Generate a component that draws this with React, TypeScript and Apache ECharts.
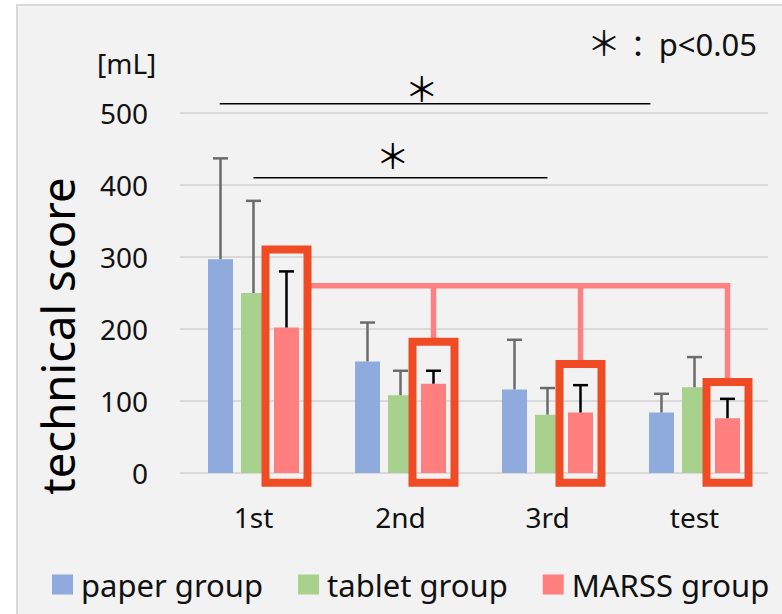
import React, { useEffect, useRef } from 'react';
import * as echarts from 'echarts';

const categories = ['1st', '2nd', '3rd', 'test'];
const seriesNames = ['paper group', 'tablet group', 'MARSS group'];
const paperMean = [297, 155, 116, 84];
const paperSD = [140, 54, 69, 26];
const tabletMean = [250, 108, 81, 119];
const tabletSD = [128, 34, 37, 42];
const marssMean = [202, 124, 84, 76];
const marssSD = [78, 18, 38, 27];
const yMin = 0;
const yMax = 500;
const yStep = 100;
// highlighted MARSS boxes: top value per category, common bottom value
const boxTop = [316, 188, 157, 132];
const boxBottom = -19;
// connector level between highlighted boxes
const connectorLevel = 260;
// significance brackets (category positions, value levels)
const sigFrom = [-0.23, 0];
const sigTo = [2.7, 2.0];
const sigLevel = [513, 410];
const sigStarAt = [1.145, 0.947];
const sigStarLevel = [535, 442];

const FONT = '"Noto Sans", sans-serif';
const CJK = '"Noto Sans CJK JP", sans-serif';
const COLORS = ['#8faadc', '#a9d18e', '#ff7f7f'];
const BAR_W = 25;
const BAR_GAP = 0.32;
const STEP = BAR_W * (1 + BAR_GAP);
const BOX_COLOR = '#ef4b24';
const LINK_COLOR = '#ff8080';

function errSeries(idx: number, means: number[], sds: number[], color: string) {
  const offset = (idx - 1) * STEP;
  return {
    type: 'custom',
    name: 'err' + idx,
    clip: false,
    z: 5,
    encode: { x: 0, y: 1 },
    data: categories.map((_, i) => [i, means[i], sds[i]]),
    renderItem: (params: any, api: any) => {
      const i = api.value(0);
      const m = api.value(1);
      const sd = api.value(2);
      const b = api.coord([i, m]);
      const t = api.coord([i, m + sd]);
      const x = b[0] + offset;
      const style = { stroke: color, lineWidth: 2.5 };
      return {
        type: 'group',
        children: [
          { type: 'line', shape: { x1: x, y1: b[1], x2: x, y2: t[1] }, style },
          { type: 'line', shape: { x1: x - 7.5, y1: t[1], x2: x + 7.5, y2: t[1] }, style },
        ],
      };
    },
  };
}

export default function App() {
  const ref = useRef<HTMLDivElement>(null);
  useEffect(() => {
    if (!ref.current) return;
    const chart = echarts.init(ref.current, undefined, { renderer: 'svg' });
    const means = [paperMean, tabletMean, marssMean];
    const option: any = {
      animation: false,
      backgroundColor: '#ffffff',
      textStyle: { fontFamily: FONT },
      grid: { left: 180, right: 14, top: 113, bottom: 141, containLabel: false },
      legend: {
        data: seriesNames,
        left: 52,
        top: 569,
        padding: 0,
        itemGap: 35,
        itemWidth: 21,
        itemHeight: 20,
        icon: 'rect',
        selectedMode: false,
        textStyle: { fontSize: 31, color: '#111', fontFamily: FONT, padding: [0, 0, 0, 3] },
      },
      xAxis: {
        type: 'category',
        data: categories,
        axisLine: { show: false },
        axisTick: { show: false },
        axisLabel: { fontSize: 28, color: '#111', margin: 30, fontFamily: FONT },
        splitLine: { show: false },
      },
      yAxis: {
        type: 'value',
        min: yMin,
        max: yMax,
        interval: yStep,
        axisLine: { show: false },
        axisTick: { show: false },
        axisLabel: { fontSize: 28, color: '#111', margin: 32, fontFamily: FONT },
        splitLine: { lineStyle: { color: '#d9d9d9', width: 2 } },
      },
      graphic: [
        {
          type: 'rect',
          z: -100,
          silent: true,
          shape: { x: 17, y: 5, width: 800, height: 700 },
          style: { fill: '#f2f2f2', stroke: '#d9d9d9', lineWidth: 2 },
        },
        {
          type: 'text',
          x: 97,
          y: 63,
          style: { text: '[mL]', fontSize: 28, fontFamily: FONT, fill: '#111', align: 'left', verticalAlign: 'middle' },
        },
        {
          type: 'text',
          x: 604,
          y: 41,
          style: { text: '＊', fontSize: 34, fontFamily: CJK, fill: '#111', align: 'center', verticalAlign: 'middle' },
        },
        {
          type: 'text',
          x: 638,
          y: 44,
          style: { text: '：', fontSize: 30, fontFamily: CJK, fill: '#111', align: 'center', verticalAlign: 'middle' },
        },
        {
          type: 'text',
          x: 757,
          y: 44,
          style: { text: 'p<0.05', fontSize: 31, fontFamily: FONT, fill: '#111', align: 'right', verticalAlign: 'middle' },
        },
        {
          type: 'text',
          x: 57,
          y: 336,
          rotation: Math.PI / 2,
          style: { text: 'technical score', fontSize: 45.5, fontFamily: FONT, fill: '#000', align: 'center', verticalAlign: 'middle' },
        },
      ],
      series: [
        ...seriesNames.map((name, s) => ({
          type: 'bar',
          name,
          data: means[s],
          barWidth: BAR_W,
          barGap: (BAR_GAP * 100) + '%',
          itemStyle: { color: COLORS[s] },
          z: 2,
        })),
        errSeries(0, paperMean, paperSD, '#6b6b6b'),
        errSeries(1, tabletMean, tabletSD, '#6b6b6b'),
        errSeries(2, marssMean, marssSD, '#000000'),
        {
          type: 'custom',
          name: 'link',
          clip: false,
          z: 6,
          encode: { x: 0, y: 1 },
          data: [[0, connectorLevel]],
          renderItem: (params: any, api: any) => {
            const yL = api.coord([0, connectorLevel])[1];
            const cx = categories.map((_, j) => api.coord([j, connectorLevel])[0] + STEP);
            const tops = boxTop.map((v) => api.coord([0, v])[1]);
            const last = categories.length - 1;
            const style = { stroke: LINK_COLOR, lineWidth: 5.5, fill: null, lineJoin: 'miter' };
            const children: any[] = [
              {
                type: 'polyline',
                shape: { points: [[cx[0] + 21, yL], [cx[last], yL], [cx[last], tops[last] + 4]] },
                style,
              },
            ];
            for (let j = 1; j < last; j++) {
              children.push({ type: 'line', shape: { x1: cx[j], y1: yL, x2: cx[j], y2: tops[j] + 4 }, style });
            }
            return { type: 'group', children };
          },
        },
        {
          type: 'custom',
          name: 'boxes',
          clip: false,
          z: 7,
          encode: { x: 0, y: 1 },
          data: categories.map((_, i) => [i, boxTop[i], boxBottom]),
          renderItem: (params: any, api: any) => {
            const i = api.value(0);
            const t = api.coord([i, api.value(1)]);
            const b = api.coord([i, api.value(2)]);
            const cx = t[0] + STEP;
            return {
              type: 'rect',
              shape: { x: cx - 21, y: t[1] + 4, width: 42, height: b[1] - t[1] - 8 },
              style: { fill: null, stroke: BOX_COLOR, lineWidth: 8 },
            };
          },
        },
        {
          type: 'custom',
          name: 'sig',
          clip: false,
          z: 8,
          encode: { x: 0, y: 1 },
          data: sigLevel.map((v, k) => [0, v, k]),
          renderItem: (params: any, api: any) => {
            const k = api.value(2);
            const band = api.size([1, 0])[0];
            const x0 = api.coord([0, 0])[0];
            const y = api.coord([0, sigLevel[k]])[1];
            const ys = api.coord([0, sigStarLevel[k]])[1];
            return {
              type: 'group',
              children: [
                {
                  type: 'line',
                  shape: { x1: x0 + sigFrom[k] * band, y1: y, x2: x0 + sigTo[k] * band, y2: y },
                  style: { stroke: '#000', lineWidth: 1.5 },
                },
                {
                  type: 'text',
                  style: {
                    text: '＊',
                    x: x0 + sigStarAt[k] * band,
                    y: ys,
                    fontSize: 34,
                    fontFamily: CJK,
                    fill: '#000',
                    align: 'center',
                    verticalAlign: 'middle',
                  },
                },
              ],
            };
          },
        },
      ],
    };
    chart.setOption(option);
    return () => chart.dispose();
  }, []);
  return <div ref={ref} style={{ position: 'fixed', left: 0, top: 0, width: 782, height: 614 }} />;
}
